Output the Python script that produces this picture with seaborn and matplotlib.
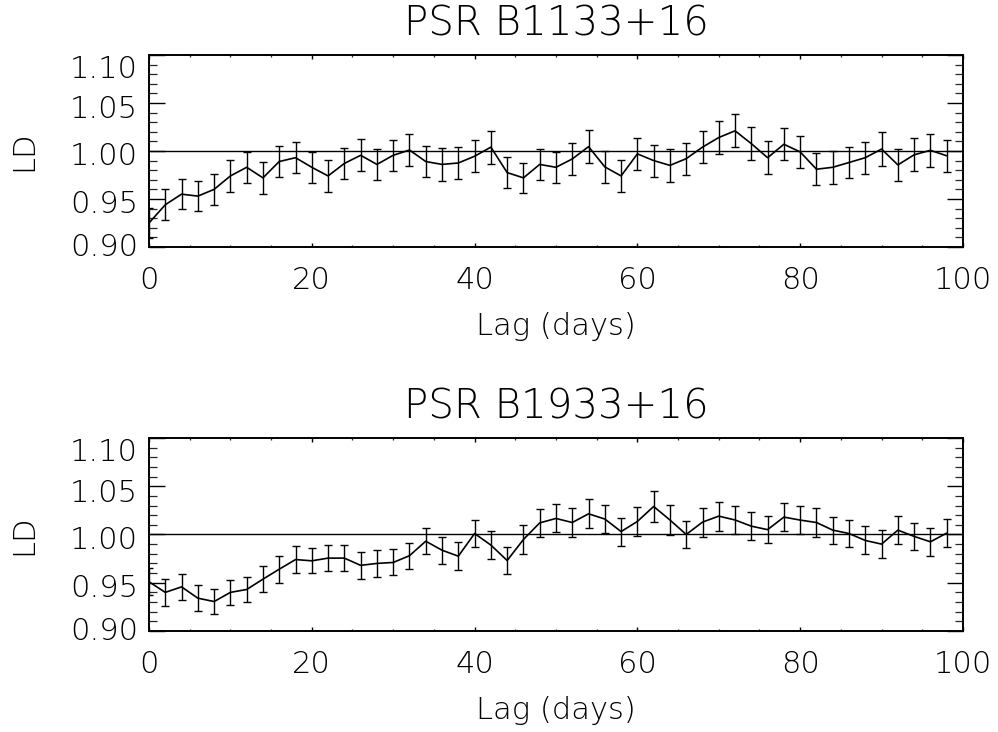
import numpy as np
import pandas as pd
import matplotlib
matplotlib.use("Agg")
import matplotlib.pyplot as plt
import matplotlib.transforms as mtransforms
from matplotlib.ticker import MultipleLocator, FixedLocator, FixedFormatter
import seaborn as sns

# Lags sampled every two days
lag_days = list(range(0, 100, 2))

# PSR B1133+16 normalised line-of-sight dispersion
ld_b1133 = [0.925, 0.944, 0.955, 0.953, 0.960, 0.974, 0.983, 0.972, 0.989, 0.993,
            0.983, 0.974, 0.987, 0.9955, 0.986, 0.9955, 1.001, 0.989, 0.986, 0.9875,
            0.9945, 1.004, 0.9775, 0.972, 0.986, 0.983, 0.9917, 1.0045, 0.9834, 0.974,
            0.997, 0.990, 0.985, 0.992, 1.004, 1.014, 1.021, 1.0076, 0.993, 1.007,
            0.999, 0.981, 0.983, 0.988, 0.993, 1.002, 0.9855, 0.996, 1.0007, 0.995]
err_b1133 = [0.0160, 0.0163, 0.0159, 0.0157, 0.0161, 0.0163, 0.0164, 0.0163, 0.0164, 0.0163,
             0.0164, 0.0164, 0.0163, 0.0166, 0.0163, 0.0163, 0.0166, 0.0164, 0.0168, 0.0166,
             0.0166, 0.0173, 0.0161, 0.0159, 0.0161, 0.0164, 0.0166, 0.0169, 0.0166, 0.0163,
             0.0164, 0.0166, 0.0168, 0.0166, 0.0168, 0.0171, 0.0171, 0.0169, 0.0169, 0.0169,
             0.0166, 0.0164, 0.0169, 0.0164, 0.0166, 0.0173, 0.0169, 0.0171, 0.0171, 0.0166]

# PSR B1933+16 normalised line-of-sight dispersion
ld_b1933 = [0.951, 0.940, 0.9457, 0.934, 0.9305, 0.940, 0.943, 0.9537, 0.964, 0.974,
            0.9727, 0.9755, 0.9755, 0.968, 0.970, 0.971, 0.978, 0.993, 0.9837, 0.9775,
            1.001, 0.989, 0.973, 0.9948, 1.012, 1.0166, 1.0124, 1.0214, 1.016, 1.003,
            1.0135, 1.029, 1.015, 1.000, 1.0128, 1.019, 1.015, 1.0086, 1.005, 1.018,
            1.0149, 1.0124, 1.0045, 1.001, 0.9938, 0.990, 1.0045, 0.998, 0.9924, 1.0014]
err_b1933 = [0.0140, 0.0138, 0.0138, 0.0137, 0.0130, 0.0128, 0.0131, 0.0137, 0.0138, 0.0137,
             0.0131, 0.0138, 0.0138, 0.0138, 0.0143, 0.0135, 0.0135, 0.0137, 0.0140, 0.0143,
             0.0142, 0.0142, 0.0138, 0.0150, 0.0147, 0.0145, 0.0147, 0.0149, 0.0147, 0.0145,
             0.0152, 0.0161, 0.0152, 0.0143, 0.0150, 0.0149, 0.0149, 0.0145, 0.0143, 0.0145,
             0.0147, 0.0150, 0.0140, 0.0142, 0.0145, 0.0143, 0.0142, 0.0140, 0.0142, 0.0149]

pulsar_names = ["PSR B1133+16", "PSR B1933+16"]
y_tick_values = [0.90, 0.95, 1.00, 1.05, 1.10]
y_tick_labels = ["0.90", "0.95", "1.00", "1.05", "1.10"]
x_label = "Lag (days)"
y_label = "LD"

sns.set_style("white")
plt.rcParams["font.family"] = ["DejaVu Sans"]
plt.rcParams["font.weight"] = "light"
plt.rcParams["axes.titleweight"] = "light"
plt.rcParams["axes.labelweight"] = "light"

fig = plt.figure(figsize=(9.98, 7.32), dpi=100)
axes = [fig.add_axes([0.1493, 0.6626, 0.8156, 0.2623]),
        fig.add_axes([0.1493, 0.1380, 0.8156, 0.2637])]

series = [(ld_b1133, err_b1133), (ld_b1933, err_b1933)]

# vertical nudges (pixels, positive = down) for the y tick labels 0.90 .. 1.10
label_nudge_px = [-2, 3, 3, 4, 12]

for ax, name, (ld, err) in zip(axes, pulsar_names, series):
    df = pd.DataFrame({"lag": lag_days, "ld": ld, "err": err})
    sns.lineplot(data=df, x="lag", y="ld", ax=ax, color="black", lw=1.2,
                 estimator=None, errorbar=None)
    ax.errorbar(df["lag"], df["ld"], yerr=df["err"], fmt="none", ecolor="black",
                elinewidth=1.0, capsize=2.6, capthick=1.0)
    ax.axhline(1.0, color="black", lw=1.0)

    ax.set_xlim(0, 100)
    ax.set_ylim(0.90, 1.10)
    ax.xaxis.set_major_locator(MultipleLocator(20))
    ax.xaxis.set_minor_locator(MultipleLocator(5))
    ax.yaxis.set_major_locator(FixedLocator(y_tick_values))
    ax.yaxis.set_major_formatter(FixedFormatter(y_tick_labels))
    ax.yaxis.set_minor_locator(MultipleLocator(0.01))

    ax.tick_params(axis="x", which="major", direction="in", length=3.0, width=1.0,
                   top=True, bottom=True, labelsize=22, pad=14, colors="black")
    ax.tick_params(axis="x", which="minor", direction="in", length=1.5, width=0.9,
                   top=True, bottom=True)
    ax.tick_params(axis="y", which="major", direction="in", length=11.5, width=1.0,
                   left=True, right=True, labelsize=22, pad=8, colors="black")
    ax.tick_params(axis="y", which="minor", direction="in", length=5.8, width=0.9,
                   left=True, right=True)

    for sp in ax.spines.values():
        sp.set_color("black")
        sp.set_linewidth(1.4)

    ax.set_title(name, fontsize=29, pad=14, color="black", fontweight="light")
    ax.set_xlabel(x_label, fontsize=22, labelpad=12, color="black", fontweight="light")
    ax.set_ylabel(y_label, fontsize=22, labelpad=23, color="black", fontweight="light")

    fig.canvas.draw()
    for lab, px in zip(ax.get_yticklabels(), label_nudge_px):
        lab.set_transform(lab.get_transform() +
                          mtransforms.ScaledTranslation(0, -px / fig.dpi,
                                                        fig.dpi_scale_trans))

fig.savefig("out.png", dpi=100, facecolor="white")
